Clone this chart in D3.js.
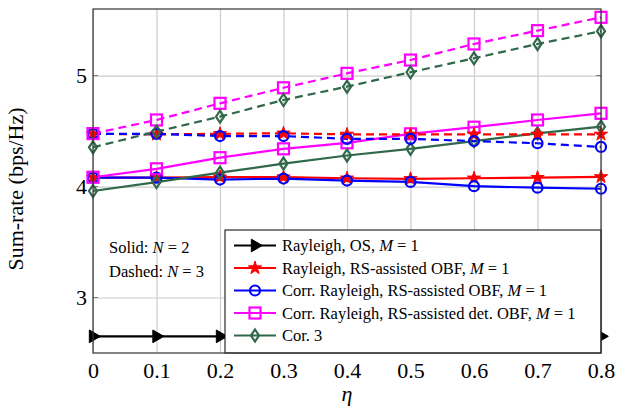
<!DOCTYPE html>
<html>
<head>
<meta charset="utf-8">
<script src="https://cdn.jsdelivr.net/npm/d3@7"></script>
<style>
  body { margin: 0; background: #fff; }
  svg text { font-family: 'Liberation Serif', 'Times New Roman', Times, serif; }
</style>
</head>
<body>
<div id="chart"></div>
<script>
// x values (eta)
var eta = [0, 0.1, 0.2, 0.3, 0.4, 0.5, 0.6, 0.7, 0.8];
var xTicks = [0, 0.1, 0.2, 0.3, 0.4, 0.5, 0.6, 0.7, 0.8];
var yTicks = [3, 4, 5];

// sum-rate values
var rayOS     = [2.65, 2.65, 2.65, 2.65, 2.65, 2.65, 2.65, 2.65, 2.65];
var rayRsN2   = [4.08, 4.08, 4.085, 4.085, 4.075, 4.07, 4.075, 4.08, 4.087];
var rayRsN3   = [4.475, 4.47, 4.475, 4.48, 4.47, 4.47, 4.47, 4.47, 4.47];
var corrRsN2  = [4.08, 4.08, 4.063, 4.072, 4.054, 4.042, 4.003, 3.99, 3.98];
var corrRsN3  = [4.475, 4.475, 4.455, 4.455, 4.43, 4.43, 4.41, 4.39, 4.357];
var corrDetN2 = [4.084, 4.16, 4.26, 4.34, 4.394, 4.475, 4.535, 4.6, 4.66];
var corrDetN3 = [4.477, 4.6, 4.75, 4.89, 5.02, 5.14, 5.285, 5.405, 5.525];
var cor3N2    = [3.96, 4.04, 4.125, 4.207, 4.28, 4.34, 4.41, 4.48, 4.54];
var cor3N3    = [4.354, 4.495, 4.63, 4.78, 4.9, 5.03, 5.156, 5.285, 5.4];

var legendNames = [
  ["Rayleigh, OS, ", "M", " = 1"],
  ["Rayleigh, RS-assisted OBF, ", "M", " = 1"],
  ["Corr. Rayleigh, RS-assisted OBF, ", "M", " = 1"],
  ["Corr. Rayleigh, RS-assisted det. OBF, ", "M", " = 1"],
  ["Cor. 3"]
];

var green = "#30684a";

// style of each curve family
var styles = [
  {color: "#000000", marker: "tri"},
  {color: "#ff0000", marker: "star"},
  {color: "#0000ff", marker: "circle"},
  {color: "#ff00ff", marker: "square"},
  {color: green, marker: "diamond"}
];

var series = [
  {values: rayOS, style: 0, dashed: false},
  {values: rayRsN2, style: 1, dashed: false},
  {values: corrRsN2, style: 2, dashed: false},
  {values: corrDetN2, style: 3, dashed: false},
  {values: cor3N2, style: 4, dashed: false},
  {values: rayRsN3, style: 1, dashed: true},
  {values: corrRsN3, style: 2, dashed: true},
  {values: corrDetN3, style: 3, dashed: true},
  {values: cor3N3, style: 4, dashed: true}
];

var margin = {top: 9, right: 21, bottom: 56, left: 93},
    width = 622 - margin.left - margin.right,
    height = 409 - margin.top - margin.bottom;

var svg = d3.select("#chart")
  .append("svg")
  .attr("width", 622)
  .attr("height", 409)
  .append("g")
  .attr("transform", "translate(" + margin.left + "," + margin.top + ")");

var x = d3.scaleLinear().domain([0, 0.8]).range([0, width]);
var y = d3.scaleLinear().domain([2.5, 5.6]).range([height, 0]);

// grid + tick labels
var xAxis = svg.append("g")
  .attr("transform", "translate(0," + height + ")")
  .call(d3.axisBottom(x).tickValues(xTicks).tickSize(-height).tickPadding(9)
    .tickFormat(function(d) { return d === 0 ? "0" : d3.format(".1f")(d); }));
var yAxis = svg.append("g")
  .call(d3.axisLeft(y).tickValues(yTicks).tickSize(-width).tickPadding(6).tickFormat(d3.format("d")));

[xAxis, yAxis].forEach(function(a) {
  a.attr("font-family", null).attr("font-size", 22);
  a.select(".domain").remove();
  a.selectAll(".tick line").attr("stroke", "#cccccc").attr("stroke-width", 1.2);
  a.selectAll(".tick text").attr("fill", "#000");
});

// small inward ticks on the left and right edges
yTicks.forEach(function(t) {
  svg.append("line").attr("x1", 0).attr("x2", 5).attr("y1", y(t)).attr("y2", y(t))
    .attr("stroke", "#777").attr("stroke-width", 1);
  svg.append("line").attr("x1", width - 5).attr("x2", width).attr("y1", y(t)).attr("y2", y(t))
    .attr("stroke", "#777").attr("stroke-width", 1);
});

var line = d3.line()
  .x(function(d, i) { return x(eta[i]); })
  .y(function(d) { return y(d); });

function drawMarker(g, type, color) {
  if (type == "tri") {
    g.append("path").attr("d", d3.symbol().type(d3.symbolTriangle).size(70)())
      .attr("transform", "rotate(90)")
      .attr("fill", "#000").attr("stroke", "#000").attr("stroke-width", 1);
  } else if (type == "star") {
    g.append("path").attr("d", d3.symbol().type(d3.symbolStar).size(55)())
      .attr("fill", color).attr("stroke", color).attr("stroke-width", 1);
  } else if (type == "circle") {
    g.append("circle").attr("r", 5).attr("fill", "none")
      .attr("stroke", color).attr("stroke-width", 2.2);
  } else if (type == "square") {
    g.append("rect").attr("x", -5.5).attr("y", -5.5).attr("width", 11).attr("height", 11)
      .attr("fill", "none").attr("stroke", color).attr("stroke-width", 2.2);
  } else if (type == "diamond") {
    g.append("path").attr("d", "M0,-6L4,0L0,6L-4,0Z")
      .attr("fill", "none").attr("stroke", color).attr("stroke-width", 2.2);
  }
}

// lines
svg.selectAll("curves")
  .data(series)
  .enter()
  .append("path")
    .attr("d", function(d) { return line(d.values); })
    .attr("fill", "none")
    .attr("stroke", function(d) { return styles[d.style].color; })
    .attr("stroke-width", 2.2)
    .attr("stroke-dasharray", function(d) { return d.dashed ? "8,5" : null; });

// markers
series.forEach(function(s) {
  var st = styles[s.style];
  s.values.forEach(function(v, i) {
    var g = svg.append("g").attr("transform", "translate(" + x(eta[i]) + "," + y(v) + ")");
    drawMarker(g, st.marker, st.color);
  });
});

// Solid / Dashed note
var note = svg.append("g").attr("transform", "translate(16,0)").attr("font-size", 16.5);
var t1 = note.append("text").attr("y", 244);
t1.append("tspan").text("Solid:  ");
t1.append("tspan").attr("font-style", "italic").text("N");
t1.append("tspan").text(" = 2");
var t2 = note.append("text").attr("y", 268);
t2.append("tspan").text("Dashed:  ");
t2.append("tspan").attr("font-style", "italic").text("N");
t2.append("tspan").text(" = 3");

// legend
var legX = 132, legY = 221;
var legend = svg.append("g").attr("transform", "translate(" + legX + "," + legY + ")");
legend.append("rect")
  .attr("width", width - legX).attr("height", height - legY)
  .attr("fill", "#fff").attr("stroke", "#000").attr("stroke-width", 1);

legendNames.forEach(function(name, i) {
  var st = styles[i];
  var row = legend.append("g").attr("transform", "translate(0," + (15.5 + i * 22.5) + ")");
  row.append("line").attr("x1", 9).attr("x2", 51).attr("y1", 0).attr("y2", 0)
    .attr("stroke", st.color).attr("stroke-width", 2.2);
  var m = row.append("g").attr("transform", "translate(30,0)");
  drawMarker(m, st.marker, st.color);
  var t = row.append("text").attr("x", 57).attr("y", 5.5).attr("font-size", 16.5);
  name.forEach(function(part, j) {
    var sp = t.append("tspan").text(part);
    if (j == 1) sp.attr("font-style", "italic");
  });
});

// frame
svg.append("rect").attr("width", width).attr("height", height)
  .attr("fill", "none").attr("stroke", "#333").attr("stroke-width", 1.2);

// axis titles
svg.append("text")
  .attr("transform", "translate(" + (-70) + "," + (height / 2 + 8) + ") rotate(-90)")
  .attr("text-anchor", "middle")
  .attr("font-size", 22)
  .text("Sum-rate (bps/Hz)");

svg.append("text")
  .attr("x", width / 2).attr("y", height + 48)
  .attr("text-anchor", "middle")
  .attr("font-style", "italic")
  .attr("font-size", 22)
  .text("η");
</script>
</body>
</html>
